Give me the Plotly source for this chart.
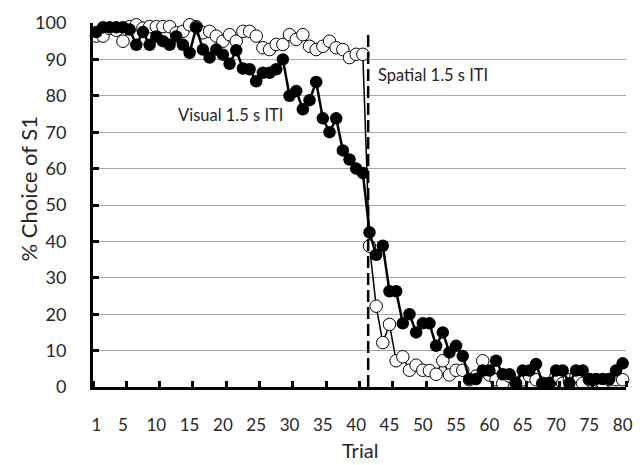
import plotly.graph_objects as go

trials = list(range(1, 81))

visual = [97.5, 98.8, 98.8, 98.8, 98.8, 98.2, 94, 97.5, 94, 96.3,
          95, 94, 96.3, 94, 91.8, 98.8, 92.7, 90.5, 92.7, 91.3,
          88.8, 92.5, 87.5, 87.3, 84, 86.3, 86.3, 87.3, 90, 80,
          81.3, 76.3, 78.8, 83.8, 73.8, 70, 73.8, 65, 62.5, 60,
          58.8, 42.5, 36.3, 38.8, 26.3, 26.3, 17.5, 20, 15, 17.5,
          17.5, 11.3, 15, 9.5, 11.3, 8.5, 2.2, 2.2, 4.5, 4.5,
          7.2, 3.5, 3.5, 1.0, 4.5, 4.5, 6.3, 1.0, 1.0, 4.5,
          4.5, 1.0, 4.5, 4.5, 2.2, 2.2, 2.2, 2.2, 4.5, 6.5]

spatial = [96.4, 96.4, 98.5, 98, 95, 99, 99.5, 98.6, 99, 99,
           99, 99, 97.3, 97.7, 99.5, 99, 97.3, 97.7, 96.4, 95,
           96.8, 95, 97.7, 97.7, 96.4, 93.2, 92.7, 94.1, 94.1, 96.8,
           95.5, 96.8, 93.6, 92.7, 93.6, 95, 93.2, 92.7, 90.5, 91.4,
           91.4, 38.7, 22.2, 12.2, 17.2, 7.2, 8.3, 4.6, 6.0, 4.6,
           4.5, 3.5, 7.2, 3.3, 4.6, 4.6, 2, 3, 7.2, 3.3,
           2, 1, 3, 1, 2, 3, 2, 1, 1, 3,
           1, 2, 3, 1, 2, 2, 1, 2, 2, 2]

xtick_vals = [1, 5, 10, 15, 20, 25, 30, 35, 40, 45, 50, 55, 60, 65, 70, 75, 80]
xtick_text = [str(v) for v in xtick_vals]
xminor_vals = [0.5] + [v + 0.5 for v in range(5, 81, 5)]
ytick_vals = list(range(0, 101, 10))

switch_trial = 41.8

FONT = "Lato"
TXT = "#262626"

fig = go.Figure()

fig.add_trace(go.Scatter(
    x=trials, y=spatial, mode="lines+markers", name="Spatial",
    line=dict(color="black", width=1.5),
    marker=dict(symbol="circle", size=12.5, color="white",
                line=dict(color="black", width=1)),
    showlegend=False, cliponaxis=False,
))
fig.add_trace(go.Scatter(
    x=trials, y=visual, mode="lines+markers", name="Visual",
    line=dict(color="black", width=2.5),
    marker=dict(symbol="circle", size=12.5, color="black",
                line=dict(color="black", width=0)),
    showlegend=False, cliponaxis=False,
))

fig.add_shape(type="line", xref="x", yref="y",
              x0=switch_trial, x1=switch_trial, y0=0, y1=97,
              line=dict(color="black", width=2.5, dash="12px,5px"))

fig.add_annotation(x=12.9, y=74.7, xref="x", yref="y", text="Visual 1.5 s ITI",
                   showarrow=False, xanchor="left", yanchor="middle",
                   font=dict(family=FONT, size=16.5, color=TXT))
fig.add_annotation(x=43.0, y=85.6, xref="x", yref="y", text="Spatial 1.5 s ITI",
                   showarrow=False, xanchor="left", yanchor="middle",
                   font=dict(family=FONT, size=16.5, color=TXT))

fig.add_annotation(x=(28 - 93) / 540, y=(387 - 187) / 367, xref="paper", yref="paper",
                   text="% Choice of S1", textangle=-90, showarrow=False,
                   xanchor="center", yanchor="middle",
                   font=dict(family=FONT, size=22, color=TXT))
fig.add_annotation(x=0.5, y=(387 - 451) / 367, xref="paper", yref="paper",
                   text="Trial", showarrow=False,
                   xanchor="center", yanchor="middle",
                   font=dict(family=FONT, size=20, color=TXT))

fig.update_layout(
    width=644, height=465,
    margin=dict(l=93, r=11, t=20, b=78),
    plot_bgcolor="white", paper_bgcolor="white",
    font=dict(family=FONT, color=TXT),
    xaxis=dict(
        range=[0.5, 80.5], tickmode="array", tickvals=xtick_vals, ticktext=xtick_text,
        ticks="", showgrid=False, zeroline=False,
        showline=True, linecolor="black", linewidth=3,
        tickfont=dict(family=FONT, size=17, color=TXT),
        ticklabelstandoff=21,
        minor=dict(tickmode="array", tickvals=xminor_vals, ticks="inside",
                   ticklen=6, tickwidth=2.5, tickcolor="black", showgrid=False),
    ),
    yaxis=dict(
        range=[0, 100], tickmode="array", tickvals=ytick_vals,
        ticks="inside", ticklen=6, tickwidth=2.5, tickcolor="black",
        showgrid=True, gridcolor="#a6a6a6", gridwidth=1, zeroline=False,
        showline=True, linecolor="black", linewidth=3,
        tickfont=dict(family=FONT, size=18, color=TXT),
        ticklabelstandoff=20,
    ),
)

fig.write_html("out.html")
